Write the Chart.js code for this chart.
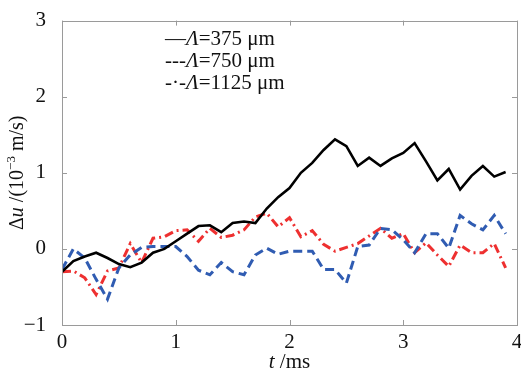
<!DOCTYPE html>
<html>
<head>
<meta charset="utf-8">
<script src="https://cdn.jsdelivr.net/npm/chart.js@4.4.1/dist/chart.umd.min.js"></script>
<style>
  html, body { margin: 0; padding: 0; background: #fff; }
  canvas { display: block; }
</style>
</head>
<body>
<canvas id="myChart" width="521" height="374"></canvas>
<script>
// time, ms
const times = [0, 0.1, 0.2, 0.3, 0.4, 0.5, 0.6, 0.7, 0.8, 0.9,
  1.0, 1.1, 1.2, 1.3, 1.4, 1.5, 1.6, 1.7, 1.8, 1.9,
  2.0, 2.1, 2.2, 2.3, 2.4, 2.5, 2.6, 2.7, 2.8, 2.9,
  3.0, 3.1, 3.2, 3.3, 3.4, 3.5, 3.6, 3.7, 3.8, 3.9];

// du, 1e-3 m/s
const du375 = [-0.3, -0.16, -0.1, -0.05, -0.12, -0.2, -0.24, -0.18, -0.05, 0.0,
  0.1, 0.2, 0.3, 0.31, 0.22, 0.34, 0.36, 0.34, 0.53, 0.68,
  0.8, 1.0, 1.13, 1.3, 1.44, 1.35, 1.09, 1.2, 1.09, 1.19,
  1.26, 1.39, 1.15, 0.9, 1.05, 0.78, 0.96, 1.09, 0.95, 1.01];
const du750 = [-0.27, 0.0, -0.12, -0.4, -0.66, -0.25, -0.08, 0.02, 0.03, 0.03,
  0.03, -0.1, -0.28, -0.34, -0.18, -0.3, -0.34, -0.08, 0.01, -0.07,
  -0.03, -0.03, -0.03, -0.27, -0.27, -0.45, 0.03, 0.05, 0.27, 0.25,
  0.12, -0.05, 0.2, 0.2, 0.01, 0.44, 0.33, 0.25, 0.44, 0.2];
const du1125 = [-0.3, -0.29, -0.38, -0.6, -0.29, -0.25, 0.07, -0.18, 0.14, 0.16,
  0.24, 0.25, 0.1, 0.27, 0.15, 0.18, 0.25, 0.42, 0.47, 0.29,
  0.41, 0.16, 0.24, 0.06, -0.03, 0.02, 0.07, 0.17, 0.27, 0.14,
  0.2, -0.05, 0.08, -0.08, -0.23, 0.05, -0.05, -0.05, 0.07, -0.25];

const xTicks = [0, 1, 2, 3, 4];
const yTicks = [-1, 0, 1, 2, 3];
const yTickLabels = ['\u22121', '0', '1', '2', '3'];

const legendPrefix = ['\u2014', '---', '-\u00b7-'];
const legendValue = ['=375 \u03bcm', '=750 \u03bcm', '=1125 \u03bcm'];

const SERIF = '"Liberation Serif", "DejaVu Serif", serif';
const ctx = document.querySelector('#myChart').getContext('2d');

const toPoints = vals => vals.map((v, i) => ({ x: times[i], y: v }));

// draw a row of [text, italic, size, dy] pieces starting at x
const drawPieces = (c, pieces, x, y) => {
  pieces.forEach(p => {
    c.font = (p[1] ? 'italic ' : '') + p[2] + 'px ' + SERIF;
    c.fillText(p[0], x, y + (p[3] || 0));
    x += c.measureText(p[0]).width;
  });
};
const piecesWidth = (c, pieces) => {
  let w = 0;
  pieces.forEach(p => {
    c.font = (p[1] ? 'italic ' : '') + p[2] + 'px ' + SERIF;
    w += c.measureText(p[0]).width;
  });
  return w;
};

const framePlugin = {
  id: 'frame',
  beforeDraw(chart) {
    const c = chart.ctx;
    c.save();
    c.fillStyle = '#fff';
    c.fillRect(0, 0, chart.width, chart.height);
    c.restore();
  },
  afterDraw(chart) {
    const c = chart.ctx;
    const a = chart.chartArea;
    const xs = chart.scales.x, ys = chart.scales.y;
    c.save();
    c.strokeStyle = '#9a9a9a';
    c.lineWidth = 1;
    c.strokeRect(Math.round(a.left) + 0.5, Math.round(a.top) + 0.5,
      Math.round(a.right - a.left), Math.round(a.bottom - a.top));
    c.beginPath();
    xTicks.forEach(v => {
      const px = Math.round(xs.getPixelForValue(v)) + 0.5;
      c.moveTo(px, a.bottom); c.lineTo(px, a.bottom - 5);
      c.moveTo(px, a.top); c.lineTo(px, a.top + 5);
    });
    yTicks.forEach(v => {
      const py = Math.round(ys.getPixelForValue(v)) + 0.5;
      c.moveTo(a.left, py); c.lineTo(a.left + 5, py);
      c.moveTo(a.right, py); c.lineTo(a.right - 5, py);
    });
    c.stroke();

    c.fillStyle = '#111';
    c.textBaseline = 'alphabetic';
    // x title
    const xt = [['t', true, 21], [' /ms', false, 21]];
    drawPieces(c, xt, (a.left + a.right) / 2 - piecesWidth(c, xt) / 2, 368);
    // y title
    const yt = [['\u0394', false, 20], ['u', true, 20], [' /(10', false, 20],
      ['\u22123', false, 13, -8], [' m/s)', false, 20]];
    c.save();
    c.translate(23, (a.top + a.bottom) / 2);
    c.rotate(-Math.PI / 2);
    drawPieces(c, yt, -piecesWidth(c, yt) / 2, 0);
    c.restore();
    // legend text
    legendPrefix.forEach((p, i) => {
      drawPieces(c, [[p, false, 21], ['\u039b', true, 21], [legendValue[i], false, 21]],
        165, 45 + i * 22);
    });
    c.restore();
  }
};

new Chart(ctx, {
  type: 'line',
  data: {
    datasets: [
      {
        label: '\u039b=375 \u03bcm',
        data: toPoints(du375),
        borderColor: '#000',
        borderWidth: 2.6,
        pointRadius: 0,
        fill: false,
      },
      {
        label: '\u039b=750 \u03bcm',
        data: toPoints(du750),
        borderColor: 'rgb(48, 92, 178)',
        borderWidth: 3,
        borderDash: [9, 5],
        pointRadius: 0,
        fill: false,
      },
      {
        label: '\u039b=1125 \u03bcm',
        data: toPoints(du1125),
        borderColor: 'rgb(238, 48, 48)',
        borderWidth: 3,
        borderDash: [9, 4, 2, 4],
        pointRadius: 0,
        fill: false,
      },
    ],
  },
  options: {
    responsive: false,
    animation: false,
    layout: { padding: { left: 0, top: 15, right: 4, bottom: 0 } },
    plugins: { legend: { display: false }, tooltip: { enabled: false } },
    scales: {
      x: {
        type: 'linear',
        min: 0,
        max: 4,
        afterBuildTicks: s => { s.ticks = xTicks.map(v => ({ value: v })); },
        afterFit: s => { s.height = 49; },
        grid: { display: false },
        border: { display: false },
        ticks: { color: '#111', font: { family: SERIF, size: 21 }, padding: -3, maxRotation: 0 },
      },
      y: {
        min: -1,
        max: 3,
        afterBuildTicks: s => { s.ticks = yTicks.map(v => ({ value: v })); },
        afterFit: s => { s.width = 62; },
        grid: { display: false },
        border: { display: false },
        ticks: {
          color: '#111',
          font: { family: SERIF, size: 21 },
          padding: 8,
          callback: v => yTickLabels[yTicks.indexOf(v)],
        },
      },
    },
  },
  plugins: [framePlugin],
});
</script>
</body>
</html>
